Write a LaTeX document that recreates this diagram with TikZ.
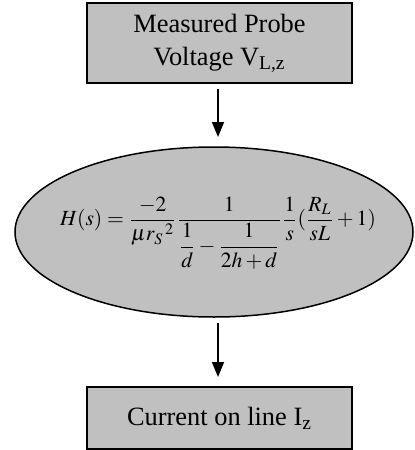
\documentclass[tikz,border=0pt]{standalone}
\usepackage{mathptmx}
\usepackage{fontspec}
\setmainfont{Liberation Serif}
\usepackage{xcolor}
\usepackage{tikz}
\usetikzlibrary{positioning,shapes.geometric,arrows.meta}
\definecolor{boxgray}{RGB}{192,192,192}

\begin{document}
\begin{tikzpicture}[x=0.5pt, y=-0.5pt,
    stagebox/.style={draw=black, line width=1.2pt, fill=boxgray,
      rectangle, minimum width=132.5pt, inner sep=0pt, outer sep=0pt,
      align=center, font=\fontsize{13.2}{16.5}\selectfont},
    filterbox/.style={draw=black, line width=0.75pt, fill=boxgray,
      ellipse, minimum width=199pt, minimum height=85pt, inner sep=0pt,
      outer sep=0pt, font=\fontsize{10.8}{13}\selectfont},
    flow/.style={-{Triangle[width=6pt,length=7.5pt]}, line width=0.75pt,
      shorten <=3pt, shorten >=5pt}]
% frame of the reference picture, 414 x 450 px
\useasboundingbox (0,0) rectangle (414,450);
% three stages, top to bottom
\node[stagebox, minimum height=40pt] (probe) at (219.5,43)
  {Measured Probe\\Voltage V\textsubscript{L,z}};
\node[filterbox] (transfer) at (214,232) {};
\node (law) at (218,233)
  {\fontsize{10.8}{13}\selectfont$\displaystyle H(s)=\frac{-2}{\mu r_S{}^{\,2}}
    \frac{1}{\displaystyle\frac{1}{d}-\frac{1}{2h+d}}
    \frac{1}{s}(\frac{R_L}{sL}+1)$};
\node[stagebox, minimum height=31pt] (current) at (219.5,418)
  {Current on line I\textsubscript{z}};
% signal path
\draw[flow] (probe.south -| law) -- (transfer.north -| law);
\draw[flow] (transfer.south -| law) -- (current.north -| law);
\end{tikzpicture}
\end{document}
